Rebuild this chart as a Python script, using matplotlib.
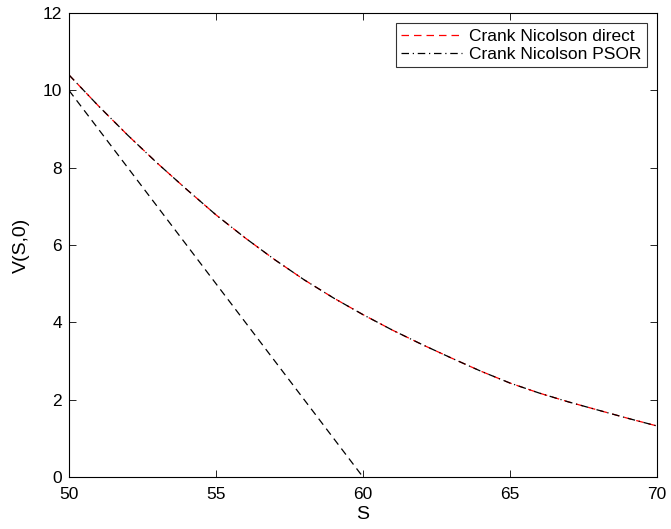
import matplotlib
matplotlib.use("Agg")
import matplotlib.pyplot as plt

plt.rcParams['font.family'] = ['Liberation Sans', 'DejaVu Sans']

# grid of underlying prices
S = [50, 51, 52, 53, 54, 55, 56, 57, 58, 59, 60,
     61, 62, 63, 64, 65, 66, 67, 68, 69, 70]

# option value (both methods coincide)
V_direct = [10.40, 9.60, 8.84, 8.12, 7.44, 6.78, 6.18, 5.62, 5.10, 4.63, 4.20,
            3.80, 3.43, 3.08, 2.74, 2.43, 2.17, 1.94, 1.73, 1.52, 1.32]
V_psor = [10.40, 9.60, 8.84, 8.12, 7.44, 6.78, 6.18, 5.62, 5.10, 4.63, 4.20,
          3.80, 3.43, 3.08, 2.74, 2.43, 2.17, 1.94, 1.73, 1.52, 1.32]

# payoff max(K - S, 0)
S_payoff = [50, 60]
payoff = [10, 0]

fig = plt.figure(figsize=(6.71, 5.29), dpi=100)
ax = fig.add_axes([0.1028, 0.0983, 0.8763, 0.877])

ax.plot(S, V_direct, color='red', linestyle=(0, (6, 4)), linewidth=0.9,
        label='Crank Nicolson direct')
ax.plot(S, V_psor, color='black', linestyle=(0, (6, 3, 1, 3)), linewidth=0.9,
        label='Crank Nicolson PSOR')
ax.plot(S_payoff, payoff, color='black', linestyle=(0, (6, 4)), linewidth=0.9)

ax.set_xlim(50, 70)
ax.set_ylim(0, 12)
ax.set_xticks([50, 55, 60, 65, 70])
ax.set_yticks([0, 2, 4, 6, 8, 10, 12])
ax.tick_params(direction='in', top=True, right=True, labelsize=12.5, length=5, width=0.6)
ax.tick_params(axis='x', pad=7)
ax.tick_params(axis='y', pad=5)
for sp in ax.spines.values():
    sp.set_linewidth(0.8)

ax.set_xlabel('S', fontsize=14, labelpad=3)
ax.set_ylabel('V(S,0)', fontsize=14, labelpad=9)

leg = ax.legend(loc='upper right', fontsize=12.5, frameon=True, fancybox=False,
                handlelength=3.5, borderpad=0.3, labelspacing=0.15,
                handletextpad=0.4, borderaxespad=0.6)
leg.get_frame().set_edgecolor('black')
leg.get_frame().set_linewidth(0.8)

fig.savefig('out.png', dpi=100)
